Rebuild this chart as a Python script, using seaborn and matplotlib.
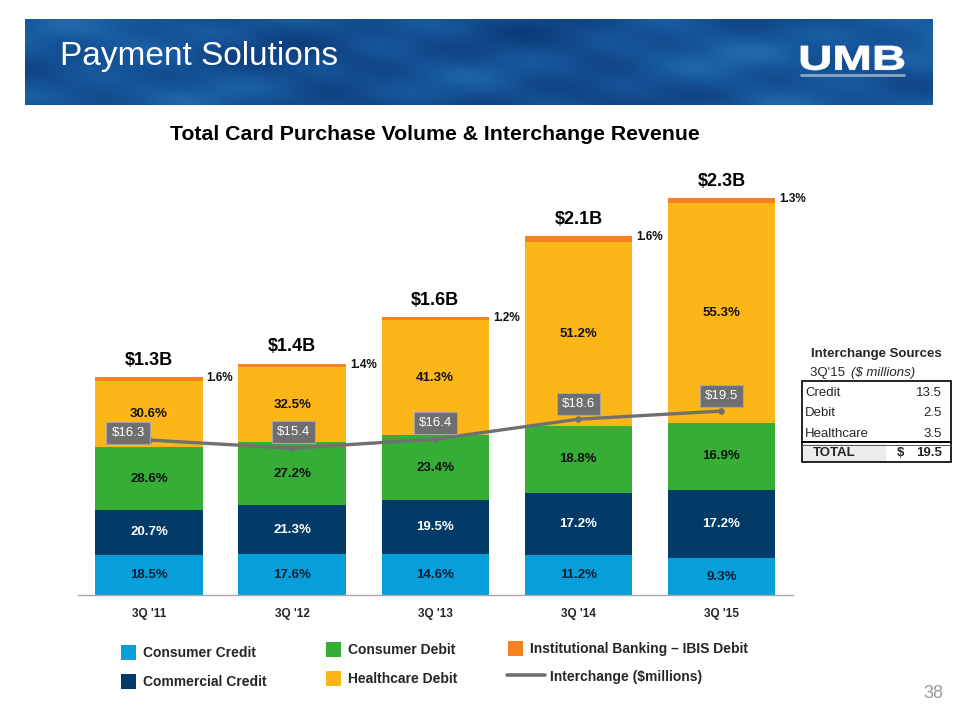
import numpy as np
import pandas as pd
import matplotlib
matplotlib.use("Agg")
import matplotlib.pyplot as plt
import seaborn as sns
from matplotlib.patches import Rectangle, PathPatch
from matplotlib.lines import Line2D
from matplotlib.textpath import TextPath
from matplotlib.font_manager import FontProperties
from matplotlib.transforms import Affine2D
from matplotlib.colors import LinearSegmentedColormap

# ---------------- data ----------------
quarters = ["3Q '11", "3Q '12", "3Q '13", "3Q '14", "3Q '15"]
total_volume_b = [1.28, 1.36, 1.635, 2.11, 2.335]
total_labels = ["$1.3B", "$1.4B", "$1.6B", "$2.1B", "$2.3B"]

series_names = ["Consumer Credit", "Commercial Credit", "Consumer Debit",
                "Healthcare Debit", "Institutional Banking \u2013 IBIS Debit"]
consumer_credit = [18.5, 17.6, 14.6, 11.2, 9.3]
commercial_credit = [20.7, 21.3, 19.5, 17.2, 17.2]
consumer_debit = [28.6, 27.2, 23.4, 18.8, 16.9]
healthcare_debit = [30.6, 32.5, 41.3, 51.2, 55.3]
ibis_debit = [1.6, 1.4, 1.2, 1.6, 1.3]

line_name = "Interchange ($millions)"
interchange = [16.3, 15.4, 16.4, 18.6, 19.5]
interchange_labels = ["$16.3", "$15.4", "$16.4", "$18.6", "$19.5"]

table_title = "Interchange Sources"
table_sub = ("3Q'15 ", "($ millions)")
source_names = ["Credit", "Debit", "Healthcare"]
source_values = [13.5, 2.5, 3.5]
source_total = 19.5

# ---------------- style ----------------
colors = ["#069fda", "#023a68", "#35ad36", "#fdb618", "#f4821f"]
text_colors = ["#0c1f38", "white", "#111111", "#111111"]
line_color = "#707070"

sns.set_style("white")
plt.rcParams["font.family"] = ["Liberation Sans", "DejaVu Sans"]

W, H = 960, 720
fig = plt.figure(figsize=(9.6, 7.2), dpi=100)


def fx(px):
    return px / W


def fy(py):
    return 1 - py / H


# ---------------- banner ----------------
bx0, by0, bx1, by1 = 25, 19, 933, 105
bax = fig.add_axes([fx(bx0), fy(by1), fx(bx1 - bx0), (by1 - by0) / H])
xx, yy = np.meshgrid(np.linspace(0, 1, 400), np.linspace(0, 1, 60))
tex = (0.42 + 0.14 * np.sin(xx * 13 + yy * 2.5) * np.cos(yy * 5 - xx * 7)
       + 0.07 * np.sin(xx * 29 + yy * 9) + 0.08 * np.cos(xx * 5 + 1.0)
       + 0.05 * np.sin(xx * 47 - yy * 13))
cmap = LinearSegmentedColormap.from_list("ban", ["#0a3470", "#17599f", "#3a86c6"])
bax.imshow(tex, cmap=cmap, aspect="auto", vmin=0, vmax=1, interpolation="bicubic")
bax.set_axis_off()
fig.text(fx(60), fy(56), "Payment Solutions", color="white", fontsize=24,
         va="center", ha="left")

# UMB logo
fp = FontProperties(family="Liberation Sans", weight="bold")
tp = TextPath((0, 0), "UMB", size=1, prop=fp)
ext = tp.get_extents()
lx0, lx1, ly_top, ly_bot = 801, 904, 46, 70
sx = (lx1 - lx0) / ext.width
sy = (ly_bot - ly_top) / ext.height
tr = (Affine2D().translate(-ext.x0, -ext.y0).scale(sx / W, sy / H)
      .translate(fx(lx0), fy(ly_bot)) + fig.transFigure)
fig.add_artist(PathPatch(tp, transform=tr, fc="white", ec="white", lw=0.6))
fig.add_artist(Line2D([fx(801), fx(904)], [fy(75), fy(75)], color="#8fa6bf", lw=2))

# subtitle
fig.text(fx(435), fy(134), "Total Card Purchase Volume & Interchange Revenue",
         fontsize=15.3, fontweight="bold", ha="center", va="center", color="black")

# ---------------- main chart ----------------
ax_left, ax_right, ax_bot, ax_top = 77.5, 793, 595, 180
ax = fig.add_axes([fx(ax_left), fy(ax_bot), fx(ax_right - ax_left), (ax_bot - ax_top) / H])
px_per_b = 170.0

pcts = np.array([consumer_credit, commercial_credit, consumer_debit, healthcare_debit, ibis_debit])
totals = np.array(total_volume_b)
seg = pcts / 100.0 * totals
cum = np.cumsum(seg, axis=0)

for k in range(len(series_names) - 1, -1, -1):
    df = pd.DataFrame({"quarter": quarters, "value": cum[k]})
    sns.barplot(data=df, x="quarter", y="value", color=colors[k], saturation=1,
                width=0.75, linewidth=0, edgecolor="none", ax=ax, errorbar=None,
                order=quarters)

ax.set_ylim(0, (ax_bot - ax_top) / px_per_b)

half_w = 0.75 / 2
for i in range(len(quarters)):
    for k in range(4):
        ymid = cum[k][i] - seg[k][i] / 2
        ax.text(i, ymid, f"{pcts[k][i]:.1f}%", ha="center", va="center",
                fontsize=9.5, fontweight="bold", color=text_colors[k])
    top = cum[-1][i]
    ax.annotate(f"{pcts[-1][i]:.1f}%", xy=(i + half_w, top), xytext=(4, -1),
                textcoords="offset pixels", ha="left", va="center",
                fontsize=8.5, fontweight="bold", color="#111111")
    ax.annotate(total_labels[i], xy=(i, top), xytext=(0, 17),
                textcoords="offset pixels", ha="center", va="center",
                fontsize=13, fontweight="bold", color="black")

# interchange line
ax2 = ax.twinx()
dfl = pd.DataFrame({"quarter": quarters, "interchange": interchange})
sns.pointplot(data=dfl, x="quarter", y="interchange", order=quarters, color=line_color,
              markers="o", markersize=3, linewidth=2.4, errorbar=None, ax=ax2)
ax2.set_ylim(-0.8, 45.0)
label_offsets = [(-21, 7), (1, 16), (0, 16), (0, 15), (0, 15)]
for i, lab in enumerate(interchange_labels):
    ax2.annotate(lab, xy=(i, interchange[i]), xytext=label_offsets[i],
                 textcoords="offset pixels", ha="center", va="center",
                 fontsize=9.5, color="white", zorder=6,
                 bbox=dict(boxstyle="square,pad=0.38", fc="#6f6f6f", ec="#a5a5a5", lw=0.8))

for a in (ax, ax2):
    a.set_xlim(-0.5, len(quarters) - 0.5)
    a.set_ylabel("")
    a.set_xlabel("")
    a.set_yticks([])
    for s in ["left", "right", "top"]:
        a.spines[s].set_visible(False)
ax2.spines["bottom"].set_visible(False)
ax.spines["bottom"].set_color("#a6a6a6")
ax.spines["bottom"].set_linewidth(1.0)
ax.set_xticks(range(len(quarters)))
ax.set_xticklabels(quarters, fontsize=8.5, fontweight="bold")
ax.set_xticks(np.arange(-0.5, len(quarters), 1.0), minor=True)
ax.tick_params(axis="x", which="major", length=0, pad=9)
ax.tick_params(axis="x", which="minor", length=4, color="#a6a6a6", width=1, direction="out")
ax.patch.set_visible(False)
ax2.patch.set_visible(False)

# ---------------- interchange sources table ----------------
fig.text(fx(876), fy(354), table_title, fontsize=9.5, fontweight="bold",
         ha="center", va="center")
fig.text(fx(849), fy(373), table_sub[0], fontsize=9.5, ha="right", va="center")
fig.text(fx(851), fy(373), table_sub[1], fontsize=9.5, ha="left", va="center",
         fontstyle="italic")
tx0, tx1, ty0, ty1 = 802, 951, 381, 462
fig.add_artist(Rectangle((fx(803), fy(461)), fx(886 - 803), (461 - 444) / H,
                         transform=fig.transFigure, fc="#ececec", ec="none"))
fig.add_artist(Rectangle((fx(tx0), fy(ty1)), fx(tx1 - tx0), (ty1 - ty0) / H,
                         transform=fig.transFigure, fill=False, ec="black", lw=1.2))
fig.add_artist(Line2D([fx(tx0), fx(tx1)], [fy(441.5), fy(441.5)], color="black", lw=1.4))
fig.add_artist(Line2D([fx(tx0), fx(tx1)], [fy(444.5), fy(444.5)], color="#555555", lw=0.7))
for j, (nm, v) in enumerate(zip(source_names, source_values)):
    yrow = 393 + 20.5 * j
    fig.text(fx(805), fy(yrow), nm, fontsize=9.5, ha="left", va="center")
    fig.text(fx(942), fy(yrow), f"{v:.1f}", fontsize=9.5, ha="right", va="center")
fig.text(fx(813), fy(453), "TOTAL", fontsize=9.5, fontweight="bold", ha="left", va="center")
fig.text(fx(897), fy(453), "$", fontsize=9.5, fontweight="bold", ha="left", va="center")
fig.text(fx(942), fy(453), f"{source_total:.1f}", fontsize=9.5, fontweight="bold",
         ha="right", va="center")

# ---------------- legend ----------------
legend_pos = [(121, 652), (121, 681), (326, 649), (326, 678), (508, 648)]
for k, (lx, ly) in enumerate(legend_pos):
    fig.add_artist(Rectangle((fx(lx), fy(ly + 7.5)), fx(15), 15 / H,
                             transform=fig.transFigure, fc=colors[k], ec="none"))
    fig.text(fx(lx + 22), fy(ly + 1), series_names[k], fontsize=10, fontweight="bold",
             ha="left", va="center")
fig.add_artist(Line2D([fx(507), fx(545)], [fy(675), fy(675)], color=line_color, lw=2.6))
fig.text(fx(550), fy(677), line_name, fontsize=10, fontweight="bold", ha="left", va="center")

fig.text(fx(943), fy(693), "38", fontsize=13, color="#9a9a9a", ha="right", va="center")

fig.savefig("out.png", dpi=100)
